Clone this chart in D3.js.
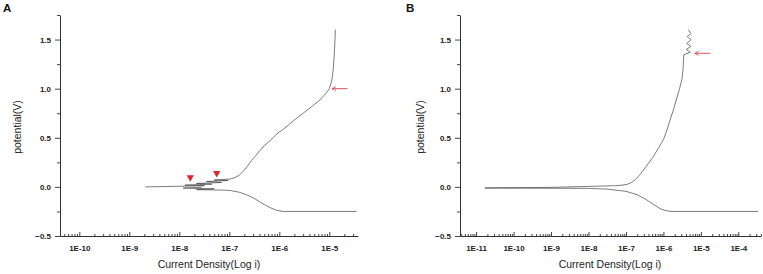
<!DOCTYPE html>
<html>
<head>
<meta charset="utf-8">
<script src="https://cdn.jsdelivr.net/npm/d3@7"></script>
<style>
  body { margin: 0; background: #fff; }
  svg { display: block; font-family: "Liberation Sans", Arial, sans-serif; }
</style>
</head>
<body>
<svg id="chart" width="763" height="274"></svg>
<script>
// y ticks shared by both panels
const yMajor = [-0.5, 0.0, 0.5, 1.0, 1.5];
const yMinor = [-0.25, 0.25, 0.75, 1.25, 1.75];

// panel A data: [current density (A), potential (V)]
const aTicks = [1e-10, 1e-9, 1e-8, 1e-7, 1e-6, 1e-5];
const aAnodic = [
  [2.1e-9, 0.0], [9e-9, 0.006], [3.2e-8, 0.012], [1.3e-8, 0.018], [4.5e-8, 0.028],
  [2.2e-8, 0.035], [7e-8, 0.045], [3.5e-8, 0.055], [9.5e-8, 0.065], [5e-8, 0.07],
  [1.05e-7, 0.08], [1.3e-7, 0.095], [1.6e-7, 0.12], [1.9e-7, 0.16], [2.3e-7, 0.21],
  [2.8e-7, 0.27], [3.4e-7, 0.32], [4.1e-7, 0.37], [5e-7, 0.42], [6.5e-7, 0.47],
  [9e-7, 0.54], [1.3e-6, 0.6], [2e-6, 0.68], [3e-6, 0.75], [4.5e-6, 0.82],
  [6.5e-6, 0.885], [8.5e-6, 0.95], [1.0e-5, 1.0], [1.12e-5, 1.08], [1.2e-5, 1.2],
  [1.26e-5, 1.35], [1.3e-5, 1.5], [1.32e-5, 1.6]
];
const aCathodic = [
  [2.8e-8, -0.004], [1.2e-8, -0.012], [5e-8, -0.02], [2.2e-8, -0.028], [8e-8, -0.033],
  [1.05e-7, -0.037], [1.6e-7, -0.055], [2.2e-7, -0.08], [3e-7, -0.11], [4e-7, -0.15],
  [5.2e-7, -0.185], [6.8e-7, -0.215], [8.8e-7, -0.238], [1.2e-6, -0.25], [3.5e-5, -0.25]
];
const aMarkers = [[1.66e-8, 0.088], [5.6e-8, 0.13]];
const aArrow = [[2.3e-5, 1.0], [1.13e-5, 1.0]];

// panel B data
const bTicks = [1e-11, 1e-10, 1e-9, 1e-8, 1e-7, 1e-6, 1e-5, 1e-4];
const bAnodic = [
  [1.7e-11, -0.01], [1e-9, -0.005], [1e-8, 0.005], [5e-8, 0.012], [8e-8, 0.018],
  [1.1e-7, 0.027], [1.4e-7, 0.045], [1.8e-7, 0.075], [2.3e-7, 0.12], [2.9e-7, 0.17],
  [4e-7, 0.24], [5.4e-7, 0.31], [7.5e-7, 0.4], [1e-6, 0.48], [1.25e-6, 0.58],
  [1.5e-6, 0.68], [1.85e-6, 0.785], [2.2e-6, 0.885], [2.65e-6, 0.99], [3.1e-6, 1.09],
  [3.35e-6, 1.2], [3.5e-6, 1.345], [5.2e-6, 1.37], [4.1e-6, 1.4], [5.4e-6, 1.43],
  [4.2e-6, 1.46], [5.5e-6, 1.5], [4.3e-6, 1.53], [5.4e-6, 1.56], [4.6e-6, 1.6]
];
const bCathodic = [
  [1.7e-11, -0.012], [1e-8, -0.015], [3e-8, -0.022], [1e-7, -0.045], [2e-7, -0.08],
  [3.5e-7, -0.13], [5.5e-7, -0.18], [8e-7, -0.22], [1.1e-6, -0.24], [1.6e-6, -0.25],
  [3.4e-4, -0.25]
];
const bArrow = [[1.8e-5, 1.36], [6.9e-6, 1.36]];

const svg = d3.select("#chart");
const defs = svg.append("defs");
defs.append("marker")
  .attr("id", "head")
  .attr("viewBox", "0 0 10 10")
  .attr("refX", 9).attr("refY", 5)
  .attr("markerWidth", 5).attr("markerHeight", 5)
  .attr("markerUnits", "userSpaceOnUse")
  .attr("orient", "auto")
  .append("path")
  .attr("d", "M1,1 L9,5 L1,9")
  .attr("fill", "none")
  .attr("stroke", "#d9434a")
  .attr("stroke-width", 1.6);

function minorTicks(domain) {
  const out = [];
  const lo = Math.floor(Math.log10(domain[0])), hi = Math.ceil(Math.log10(domain[1]));
  for (let e = lo; e < hi; e++) {
    for (let m = 2; m <= 9; m++) {
      const v = m * Math.pow(10, e);
      if (v >= domain[0] && v <= domain[1]) out.push(v);
    }
  }
  return out;
}

function panel(opt) {
  const x = d3.scaleLog().domain(opt.xDomain).range([opt.left, opt.right]);
  const y = d3.scaleLinear().domain([-0.5, 1.75]).range([236, 15]);
  const g = svg.append("g");

  // minor x ticks (inward)
  g.append("g")
    .attr("transform", "translate(0,236)")
    .call(d3.axisBottom(x).tickValues(minorTicks(opt.xDomain)).tickSize(-2).tickFormat(""))
    .call(s => s.select(".domain").remove());

  // major x ticks
  const xa = g.append("g")
    .attr("transform", "translate(0,236)")
    .call(d3.axisBottom(x).tickValues(opt.xTicks).tickSizeInner(-4).tickSizeOuter(0)
      .tickPadding(9).tickFormat(d => "1E" + Math.round(Math.log10(d))));

  // y minor + major (outward)
  g.append("g")
    .attr("transform", `translate(${opt.left},0)`)
    .call(d3.axisLeft(y).tickValues(yMinor).tickSize(3).tickFormat(""))
    .call(s => s.select(".domain").remove());
  const ya = g.append("g")
    .attr("transform", `translate(${opt.left},0)`)
    .call(d3.axisLeft(y).tickValues(yMajor).tickSizeInner(5).tickSizeOuter(0)
      .tickPadding(4).tickFormat(d3.format(".1f")));

  g.selectAll(".domain").attr("stroke", "#333").attr("stroke-width", 1);
  g.selectAll(".tick line").attr("stroke", "#444");
  [xa, ya].forEach(a => a.selectAll("text")
    .attr("font-size", 8).attr("font-weight", "bold").attr("fill", "#222"));

  const line = d3.line().x(d => x(d[0])).y(d => y(d[1]));
  [opt.anodic, opt.cathodic].forEach(data => {
    g.append("path").datum(data)
      .attr("d", line)
      .attr("fill", "none")
      .attr("stroke", "#444")
      .attr("stroke-width", 0.7)
      .attr("stroke-linejoin", "round");
  });

  if (opt.markers) {
    g.selectAll("path.mk").data(opt.markers).join("path")
      .attr("class", "mk")
      .attr("transform", d => `translate(${x(d[0])},${y(d[1])})`)
      .attr("d", "M-3.6,-3 L3.6,-3 L0,3.4 Z")
      .attr("fill", "#e0262b");
  }

  g.append("line")
    .attr("x1", x(opt.arrow[0][0])).attr("y1", y(opt.arrow[0][1]))
    .attr("x2", x(opt.arrow[1][0])).attr("y2", y(opt.arrow[1][1]))
    .attr("stroke", "#d9434a").attr("stroke-width", 0.9)
    .attr("marker-end", "url(#head)");

  g.append("text")
    .attr("x", opt.letterX).attr("y", 12)
    .attr("font-size", 11.5).attr("font-weight", "bold").attr("fill", "#111")
    .text(opt.letter);

  g.append("text")
    .attr("transform", `translate(${opt.yLabelX},127) rotate(-90)`)
    .attr("text-anchor", "middle")
    .attr("font-size", 10.5).attr("fill", "#222")
    .text("potential(V)");

  g.append("text")
    .attr("x", opt.xLabelX).attr("y", 268)
    .attr("text-anchor", "middle")
    .attr("font-size", 10.5).attr("fill", "#222")
    .text("Current Density(Log i)");
}

panel({
  letter: "A", letterX: 3, left: 60, right: 358,
  xDomain: [Math.pow(10, -10.386), Math.pow(10, -4.426)],
  xTicks: aTicks, anodic: aAnodic, cathodic: aCathodic,
  markers: aMarkers, arrow: aArrow, yLabelX: 21, xLabelX: 209
});

panel({
  letter: "B", letterX: 406, left: 460, right: 761,
  xDomain: [Math.pow(10, -11.43), Math.pow(10, -3.395)],
  xTicks: bTicks, anodic: bAnodic, cathodic: bCathodic,
  arrow: bArrow, yLabelX: 424, xLabelX: 610
});
</script>
</body>
</html>
